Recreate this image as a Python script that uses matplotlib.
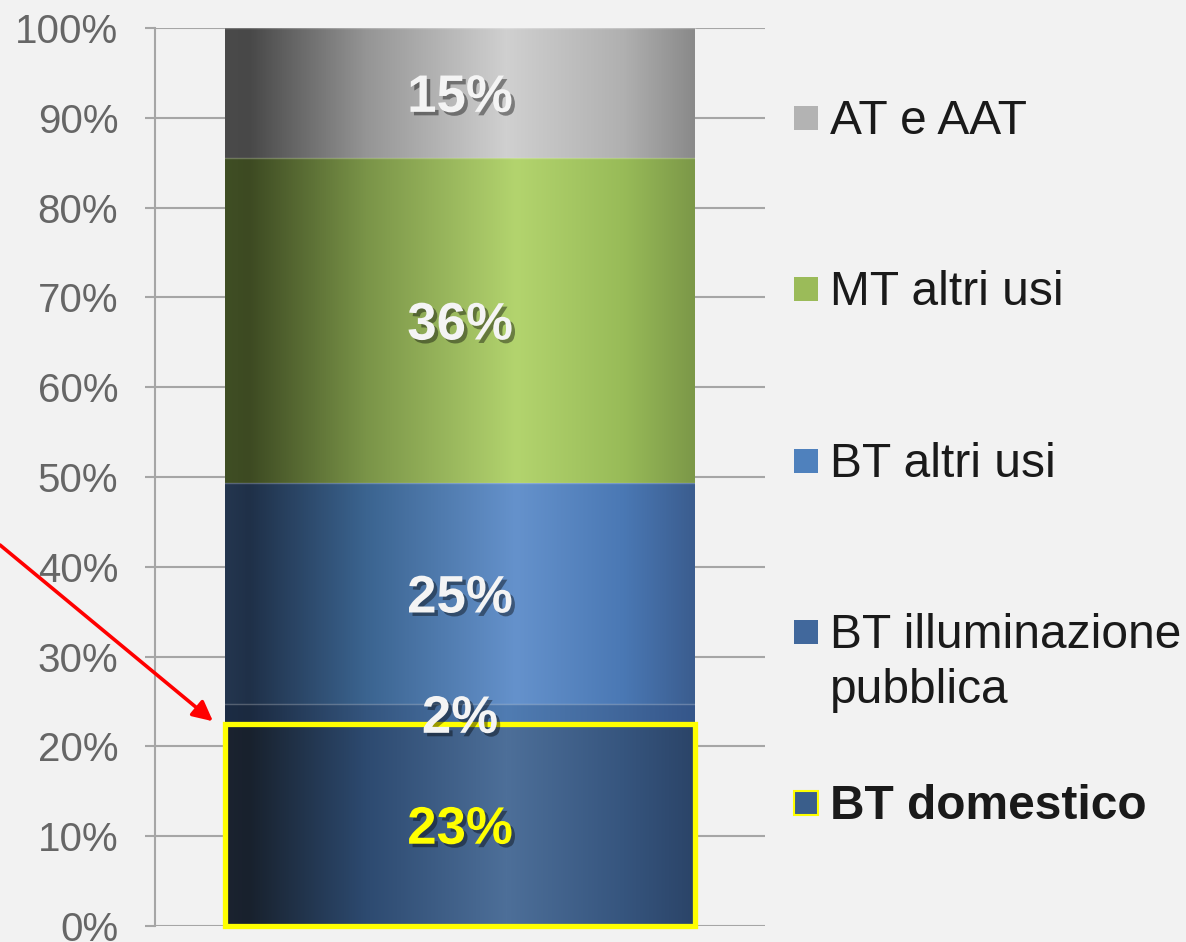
import numpy as np
import matplotlib
matplotlib.use("Agg")
import matplotlib.pyplot as plt
import matplotlib.patheffects as pe
from matplotlib.colors import LinearSegmentedColormap
from matplotlib.patches import Rectangle

# segments, bottom to top
categories = ["BT domestico", "BT illuminazione\npubblica", "BT altri usi", "MT altri usi", "AT e AAT"]
shares = [22.5, 2.2, 24.6, 36.2, 14.5]
share_labels = ["23%", "2%", "25%", "36%", "15%"]
yticks = [0, 10, 20, 30, 40, 50, 60, 70, 80, 90, 100]
ytick_labels = [f"{t}%" for t in yticks]

W, H = 1186, 942;
BG = "#f2f2f2";
GRID = "#a6a6a6";

# horizontal gradient stops per segment (position, colour)
gradients = [
    [(0, "#1b2330"), (0.05, "#18212d"), (0.3, "#2d4a70"), (0.6, "#4d6f99"), (0.85, "#36557e"), (1, "#2b4468")],
    [(0, "#1c2c44"), (0.05, "#1b2a40"), (0.3, "#34557e"), (0.6, "#507cb2"), (0.85, "#40669a"), (1, "#35568a")],
    [(0, "#24364f"), (0.05, "#1f3048"), (0.3, "#3b6490"), (0.62, "#6592cc"), (0.85, "#4a78b4"), (1, "#3b5d8f")],
    [(0, "#3f4e24"), (0.05, "#3d4a22"), (0.3, "#7a9448"), (0.62, "#b3d46e"), (0.85, "#98bb58"), (1, "#7c9848")],
    [(0, "#4a4a4a"), (0.05, "#484848"), (0.3, "#959595"), (0.6, "#d0d0d0"), (0.85, "#b0b0b0"), (1, "#8a8a8a")],
];
legend_colors = ["#3a5e8b", "#41689c", "#4f81bd", "#9bbb59", "#b3b3b3"];


def px(x):
    return x / W;


def py(y):
    return 1 - y / H;


def gradient_fill(ax, patch, stops):

    x0, y0 = patch.get_x(), patch.get_y();
    w, h = patch.get_width(), patch.get_height();
    cmap = LinearSegmentedColormap.from_list("seg", stops);
    grad = np.linspace(0, 1, 512).reshape(1, -1);
    ax.imshow(grad, cmap=cmap, extent=[x0, x0 + w, y0, y0 + h], aspect="auto",
              interpolation="bilinear", zorder=2);
    ax.plot([x0, x0 + w], [y0 + h, y0 + h], color="white", alpha=0.25, lw=1, zorder=3);

    return;


def draw_legend(fig):

    rows = [803, 632, 461, 289, 118];  # marker centre y in pixels
    for i, name in enumerate(categories):
        yc = rows[i];
        edge = "#ffff00" if i == 0 else legend_colors[i];
        fig.patches.append(Rectangle((px(794), py(yc + 12)), px(24), 24 / H,
                                     transform=fig.transFigure, facecolor=legend_colors[i],
                                     edgecolor=edge, lw=1.5 if i == 0 else 0));
        weight = "bold" if i == 0 else "normal";
        for j, line in enumerate(name.split("\n")):
            fig.text(px(830), py(yc + 16 + 55 * j), line, fontsize=34.5, color="#1a1a1a",
                     fontweight=weight, va="baseline", ha="left");

    return;


if __name__ == "__main__":

    plt.rcParams["font.family"] = ["Liberation Sans", "DejaVu Sans"];

    fig = plt.figure(figsize=(W / 100, H / 100), dpi=100, facecolor=BG);
    ax = fig.add_axes([px(155), py(926), 610 / W, 898 / H]);
    ax.set_facecolor(BG);

    bottoms = np.concatenate([[0], np.cumsum(shares)[:-1]]);
    bars = ax.bar([0] * len(shares), shares, bottom=bottoms, width=0.77,
                  color="none", edgecolor="none", zorder=2);

    for i, patch in enumerate(bars.patches):
        gradient_fill(ax, patch, gradients[i]);
        color = "#ffff00" if i == 0 else "#f4f4f4";
        ax.annotate(share_labels[i], xy=(0, bottoms[i] + shares[i] / 2), xytext=(0, -13.5),
                    textcoords="offset points", ha="center", va="baseline",
                    fontsize=38, fontweight="bold", color=color, zorder=6,
                    path_effects=[pe.SimplePatchShadow(offset=(2.5, -2.5), shadow_rgbFace="black", alpha=0.4),
                                  pe.Normal()]);

    # highlight on the domestic segment
    dom = bars.patches[0];
    ax.add_patch(Rectangle((dom.get_x(), dom.get_y()), dom.get_width(), dom.get_height(),
                           facecolor="none", edgecolor="#ffff00", lw=3.8, zorder=5, clip_on=False));

    ax.set_xlim(-0.5, 0.5);
    ax.set_ylim(0, 100);
    ax.set_xticks([]);
    ax.set_yticks(yticks);
    ax.set_yticklabels(ytick_labels);
    ax.tick_params(axis="y", length=7.5, width=1.5, color=GRID, pad=19,
                   labelsize=29, labelcolor="#666666");
    ax.yaxis.grid(True, color=GRID, lw=1.5);
    ax.set_axisbelow(True);
    for s in ["top", "right", "bottom"]:
        ax.spines[s].set_visible(False);
    ax.spines["left"].set_color(GRID);
    ax.spines["left"].set_linewidth(1.5);

    # red arrow pointing to the highlighted segment
    ax.annotate("", xy=(dom.get_x() - 0.02, dom.get_height() + 0.3), xycoords="data",
                xytext=(0, py(545)), textcoords="figure fraction",
                arrowprops=dict(arrowstyle="-|>", color="#ff0000", lw=2.6, mutation_scale=30,
                                shrinkA=0, shrinkB=0),
                annotation_clip=False, zorder=7);

    draw_legend(fig);

    fig.savefig("out.png", dpi=100, facecolor=BG);
